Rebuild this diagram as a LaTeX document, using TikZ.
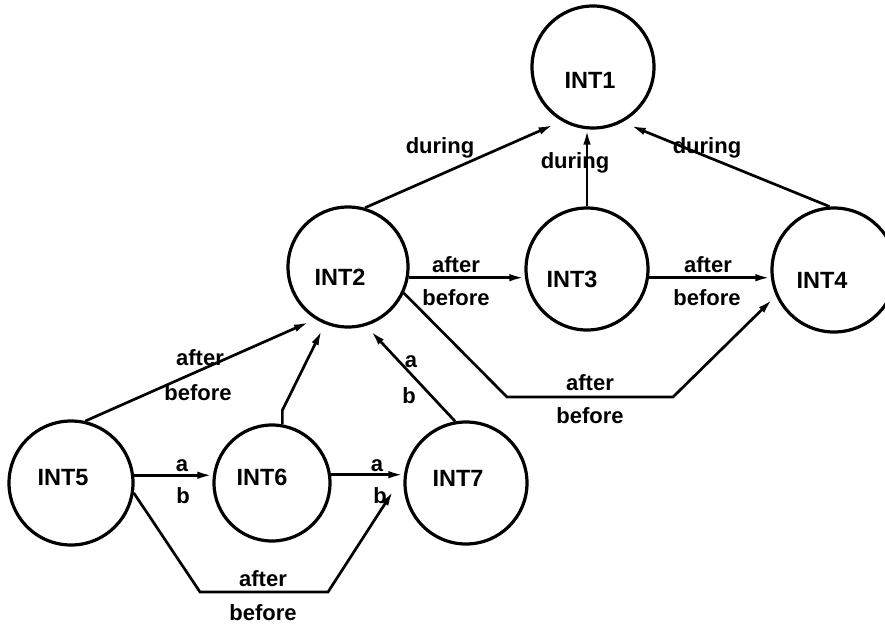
\documentclass[tikz,border=0pt]{standalone}
\usepackage{fontspec}
\setmainfont{Liberation Sans}
\usetikzlibrary{arrows.meta,calc}
\tikzset{
  iv/.style={circle, draw, line width=3.2pt, minimum size=#1, inner sep=0pt},
  ivname/.style={font=\bfseries\fontsize{23.5}{23.5}\selectfont, inner sep=0pt, anchor=center},
  rel/.style={line width=2.7pt, -{Latex[length=15pt,width=7.5pt]}},
  lab/.style={font=\bfseries\fontsize{22}{22}\selectfont, inner sep=0pt, anchor=base},
}
\begin{document}
\begin{tikzpicture}[x=1pt,y=-1pt]
  \useasboundingbox (0,0) rectangle (885,623);
  \fill[white] (0,0) rectangle (885,623);
  \clip (0,0) rectangle (885,623);

  % intervals
  \node[iv=122pt] (n1) at (593,67)  {};
  \node[iv=120pt] (n2) at (348,267) {};
  \node[iv=122pt] (n3) at (587,269) {};
  \node[iv=124pt] (n4) at (834,270) {};
  \node[iv=124pt] (n5) at (71,483)  {};
  \node[iv=116pt] (n6) at (272,483) {};
  \node[iv=122pt] (n7) at (466,483) {};

  \node[ivname] (t1) at (590,80)  {INT1};
  \node[ivname] (t2) at (340,277) {INT2};
  \node[ivname] (t3) at (572,279) {INT3};
  \node[ivname] (t4) at (822,280) {INT4};
  \node[ivname] (t5) at (63,478)  {INT5};
  \node[ivname] (t6) at (262,477) {INT6};
  \node[ivname] (t7) at (458,478) {INT7};

  % relations into INT1
  \draw[rel, shorten >=9pt] (n2.74) -- (n1.240);
  \draw[rel] (n3.north) -- (n3.north |- n1.south);
  \draw[rel, shorten >=9pt] (n4.94) -- (n1.298);
  \node[lab] (d1) at (440,153) {during};
  \node[lab] (d2) at (575,168) {during};
  \node[lab] (d3) at (707,153) {during};

  % INT2 -> INT3 -> INT4
  \draw[rel] (n2.-10) -- (n2.-10 -| n3.west);
  \draw[rel] (n3.-8) -- (n3.-8 -| n4.west);
  \node[lab] (e1) at (456,272) {after};
  \node[lab] (f1) at (456,305) {before};
  \node[lab] (e2) at (708,272) {after};
  \node[lab] (f2) at (707,305) {before};

  % INT2 -> INT4
  \coordinate (p1) at (507,397);
  \coordinate (p2) at (673,397);
  \draw[rel, shorten >=5pt] (n2.-25) -- (p1) -- (p2) -- (n4.204);
  \node[lab] (e3) at (590,390) {after};
  \node[lab] (f3) at (590,423) {before};

  % relations into INT2
  \draw[rel, shorten >=7pt] (n5.77) -- (n2.238);
  \node[lab] (e4) at (200,365) {after};
  \node[lab] (f4) at (198,400) {before};
  \coordinate (k6) at ($(n6.80)+(0,-14)$);
  \draw[rel, shorten >=7pt] (n6.80) -- (k6) -- (n2.248);
  \draw[rel, shorten >=7pt] (n7.100) -- (n2.287);
  \node[lab] (g1) at (411,367) {a};
  \node[lab] (h1) at (409,403) {b};

  % INT5 -> INT6 -> INT7
  \draw[rel] (n5.7) -- (n5.7 -| n6.west);
  \draw[rel] (n6.8) -- (n6.8 -| n7.west);
  \node[lab] (g2) at (182,471) {a};
  \node[lab] (h2) at (183,503) {b};
  \node[lab] (g3) at (377,471) {a};
  \node[lab] (h3) at (380,503) {b};

  % INT5 -> INT7
  \coordinate (q1) at (200,592);
  \coordinate (q2) at (328,592);
  \draw[rel, shorten >=20pt] (n5.-9) -- (q1) -- (q2) -- (n7.172);
  \node[lab] (e5) at (263,586) {after};
  \node[lab] (f5) at (263,620) {before};
\end{tikzpicture}
\end{document}
